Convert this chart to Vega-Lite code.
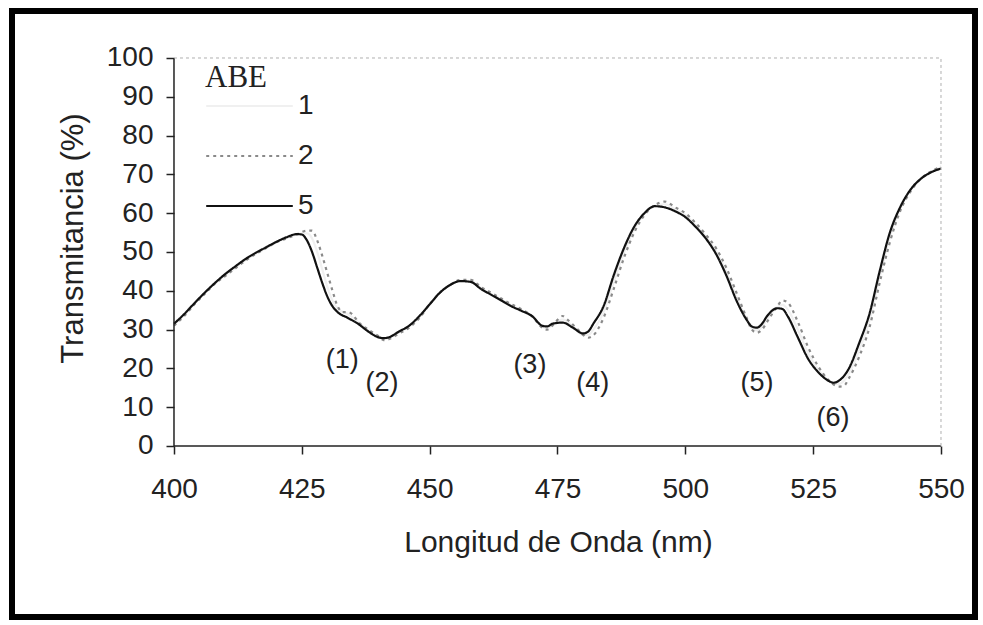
{
  "$schema": "https://vega.github.io/schema/vega-lite/v6.json",
  "width": 963,
  "height": 606,
  "autosize": {"type": "none"},
  "padding": {"left": 12, "top": 11, "right": 8, "bottom": 8},
  "background": "white",
  "data": {"values": [{}]},
  "config": {
    "view": {"stroke": "black", "strokeWidth": 6},
    "font": "Liberation Sans",
    "axis": {"labelFont": "Liberation Sans", "titleFont": "Liberation Sans", "labelColor": "#222", "titleColor": "#222", "tickColor": "#222", "tickWidth": 1.5}
  },
  "datasets": {
    "curves": [
      {"s":"1","wl":400,"t":31.3},{"s":"1","wl":402,"t":33.8},{"s":"1","wl":404,"t":36.6},{"s":"1","wl":406,"t":39.4},{"s":"1","wl":408,"t":41.9},{"s":"1","wl":410,"t":43.9},{"s":"1","wl":412,"t":45.9},{"s":"1","wl":414,"t":47.9},{"s":"1","wl":416,"t":49.5},{"s":"1","wl":418,"t":51},{"s":"1","wl":420,"t":52.5},{"s":"1","wl":422,"t":53.6},{"s":"1","wl":424,"t":54.5},{"s":"1","wl":426,"t":54.8},{"s":"1","wl":427,"t":53.5},{"s":"1","wl":428,"t":50},{"s":"1","wl":429,"t":45.5},{"s":"1","wl":430,"t":41},{"s":"1","wl":431,"t":37.5},{"s":"1","wl":432,"t":35.5},{"s":"1","wl":434,"t":34},{"s":"1","wl":436,"t":32},{"s":"1","wl":438,"t":29.8},{"s":"1","wl":440,"t":28.2},{"s":"1","wl":441,"t":27.6},{"s":"1","wl":442,"t":27.8},{"s":"1","wl":444,"t":29.3},{"s":"1","wl":446,"t":30.8},{"s":"1","wl":448,"t":33.2},{"s":"1","wl":450,"t":36.5},{"s":"1","wl":452,"t":39.5},{"s":"1","wl":454,"t":41.5},{"s":"1","wl":456,"t":42.6},{"s":"1","wl":458,"t":42.5},{"s":"1","wl":460,"t":40.8},{"s":"1","wl":462,"t":39.2},{"s":"1","wl":464,"t":37.8},{"s":"1","wl":466,"t":36.2},{"s":"1","wl":468,"t":35},{"s":"1","wl":470,"t":33.5},{"s":"1","wl":472,"t":30.8},{"s":"1","wl":473,"t":30.4},{"s":"1","wl":474,"t":31.2},{"s":"1","wl":476,"t":32.6},{"s":"1","wl":478,"t":30.8},{"s":"1","wl":480,"t":28.6},{"s":"1","wl":481,"t":28.6},{"s":"1","wl":482,"t":30},{"s":"1","wl":484,"t":34.5},{"s":"1","wl":486,"t":42.3},{"s":"1","wl":488,"t":49.8},{"s":"1","wl":490,"t":55.8},{"s":"1","wl":492,"t":59.8},{"s":"1","wl":494,"t":61.9},{"s":"1","wl":496,"t":62.3},{"s":"1","wl":498,"t":61},{"s":"1","wl":500,"t":59.5},{"s":"1","wl":502,"t":57},{"s":"1","wl":504,"t":54},{"s":"1","wl":506,"t":50.2},{"s":"1","wl":508,"t":45},{"s":"1","wl":510,"t":38.5},{"s":"1","wl":512,"t":32.7},{"s":"1","wl":513,"t":30.4},{"s":"1","wl":514,"t":29.8},{"s":"1","wl":515,"t":30.7},{"s":"1","wl":516,"t":32.7},{"s":"1","wl":518,"t":35.8},{"s":"1","wl":519,"t":36.4},{"s":"1","wl":520,"t":35.2},{"s":"1","wl":522,"t":30},{"s":"1","wl":524,"t":24},{"s":"1","wl":526,"t":19.7},{"s":"1","wl":528,"t":16.9},{"s":"1","wl":529,"t":16},{"s":"1","wl":530,"t":16},{"s":"1","wl":532,"t":18.7},{"s":"1","wl":534,"t":24.8},{"s":"1","wl":536,"t":32.2},{"s":"1","wl":538,"t":43.5},{"s":"1","wl":540,"t":53.8},{"s":"1","wl":542,"t":61},{"s":"1","wl":544,"t":65.8},{"s":"1","wl":546,"t":68.8},{"s":"1","wl":548,"t":70.6},{"s":"1","wl":550,"t":71.8},
      {"s":"2","wl":400,"t":31},{"s":"2","wl":402,"t":33.5},{"s":"2","wl":404,"t":36.5},{"s":"2","wl":406,"t":39.2},{"s":"2","wl":408,"t":41.8},{"s":"2","wl":410,"t":43.8},{"s":"2","wl":412,"t":45.8},{"s":"2","wl":414,"t":47.8},{"s":"2","wl":416,"t":49.5},{"s":"2","wl":418,"t":51},{"s":"2","wl":420,"t":52.5},{"s":"2","wl":422,"t":53.5},{"s":"2","wl":424,"t":54.5},{"s":"2","wl":426,"t":55.5},{"s":"2","wl":427,"t":55.5},{"s":"2","wl":428,"t":53},{"s":"2","wl":429,"t":49},{"s":"2","wl":430,"t":44.5},{"s":"2","wl":431,"t":40},{"s":"2","wl":432,"t":36},{"s":"2","wl":433,"t":34.5},{"s":"2","wl":434,"t":34.5},{"s":"2","wl":435,"t":33.8},{"s":"2","wl":436,"t":32},{"s":"2","wl":438,"t":30},{"s":"2","wl":440,"t":28.3},{"s":"2","wl":441,"t":27.3},{"s":"2","wl":442,"t":27.5},{"s":"2","wl":444,"t":29},{"s":"2","wl":446,"t":30.5},{"s":"2","wl":448,"t":33},{"s":"2","wl":450,"t":36.5},{"s":"2","wl":452,"t":39.5},{"s":"2","wl":454,"t":41.5},{"s":"2","wl":456,"t":42.8},{"s":"2","wl":458,"t":42.8},{"s":"2","wl":460,"t":41},{"s":"2","wl":462,"t":39.5},{"s":"2","wl":464,"t":38},{"s":"2","wl":466,"t":36.5},{"s":"2","wl":468,"t":35.2},{"s":"2","wl":470,"t":33.5},{"s":"2","wl":472,"t":30.5},{"s":"2","wl":473,"t":30},{"s":"2","wl":474,"t":31},{"s":"2","wl":475,"t":32.5},{"s":"2","wl":476,"t":33.5},{"s":"2","wl":477,"t":32.5},{"s":"2","wl":479,"t":30},{"s":"2","wl":481,"t":27.9},{"s":"2","wl":482,"t":28.5},{"s":"2","wl":484,"t":33},{"s":"2","wl":486,"t":40.5},{"s":"2","wl":488,"t":48.5},{"s":"2","wl":490,"t":55},{"s":"2","wl":492,"t":59.5},{"s":"2","wl":494,"t":62},{"s":"2","wl":496,"t":63},{"s":"2","wl":498,"t":61.5},{"s":"2","wl":500,"t":60},{"s":"2","wl":502,"t":57.5},{"s":"2","wl":504,"t":54.5},{"s":"2","wl":506,"t":51},{"s":"2","wl":508,"t":46},{"s":"2","wl":510,"t":39.5},{"s":"2","wl":512,"t":33},{"s":"2","wl":513,"t":30},{"s":"2","wl":514,"t":29.2},{"s":"2","wl":515,"t":30},{"s":"2","wl":516,"t":32},{"s":"2","wl":518,"t":36},{"s":"2","wl":519,"t":37.5},{"s":"2","wl":520,"t":37},{"s":"2","wl":522,"t":32},{"s":"2","wl":524,"t":25.5},{"s":"2","wl":526,"t":20.5},{"s":"2","wl":528,"t":17},{"s":"2","wl":530,"t":15.3},{"s":"2","wl":531,"t":15.5},{"s":"2","wl":532,"t":17.5},{"s":"2","wl":534,"t":23},{"s":"2","wl":536,"t":30.5},{"s":"2","wl":538,"t":42},{"s":"2","wl":540,"t":52.5},{"s":"2","wl":542,"t":60.5},{"s":"2","wl":544,"t":65.5},{"s":"2","wl":546,"t":68.8},{"s":"2","wl":548,"t":70.7},{"s":"2","wl":550,"t":72},
      {"s":"5","wl":400,"t":31.5},{"s":"5","wl":402,"t":34},{"s":"5","wl":404,"t":36.8},{"s":"5","wl":406,"t":39.5},{"s":"5","wl":408,"t":42},{"s":"5","wl":410,"t":44.3},{"s":"5","wl":412,"t":46.3},{"s":"5","wl":414,"t":48.2},{"s":"5","wl":416,"t":49.8},{"s":"5","wl":418,"t":51.2},{"s":"5","wl":420,"t":52.6},{"s":"5","wl":422,"t":53.8},{"s":"5","wl":424,"t":54.6},{"s":"5","wl":425,"t":54.5},{"s":"5","wl":426,"t":53},{"s":"5","wl":427,"t":50},{"s":"5","wl":428,"t":46},{"s":"5","wl":429,"t":42},{"s":"5","wl":430,"t":38.5},{"s":"5","wl":431,"t":36},{"s":"5","wl":432,"t":34.5},{"s":"5","wl":434,"t":33},{"s":"5","wl":436,"t":31.5},{"s":"5","wl":438,"t":29.5},{"s":"5","wl":440,"t":28},{"s":"5","wl":441,"t":27.8},{"s":"5","wl":442,"t":28},{"s":"5","wl":444,"t":29.5},{"s":"5","wl":446,"t":31},{"s":"5","wl":448,"t":33.5},{"s":"5","wl":450,"t":36.5},{"s":"5","wl":452,"t":39.5},{"s":"5","wl":454,"t":41.5},{"s":"5","wl":456,"t":42.5},{"s":"5","wl":458,"t":42.3},{"s":"5","wl":460,"t":40.5},{"s":"5","wl":462,"t":39},{"s":"5","wl":464,"t":37.5},{"s":"5","wl":466,"t":36},{"s":"5","wl":468,"t":34.8},{"s":"5","wl":470,"t":33.5},{"s":"5","wl":472,"t":31},{"s":"5","wl":473,"t":30.8},{"s":"5","wl":474,"t":31.5},{"s":"5","wl":476,"t":31.8},{"s":"5","wl":478,"t":30.5},{"s":"5","wl":480,"t":29},{"s":"5","wl":481,"t":29.5},{"s":"5","wl":482,"t":31.5},{"s":"5","wl":484,"t":36},{"s":"5","wl":486,"t":44},{"s":"5","wl":488,"t":51},{"s":"5","wl":490,"t":56.5},{"s":"5","wl":492,"t":60},{"s":"5","wl":494,"t":61.8},{"s":"5","wl":496,"t":61.5},{"s":"5","wl":498,"t":60.5},{"s":"5","wl":500,"t":59},{"s":"5","wl":502,"t":56.5},{"s":"5","wl":504,"t":53.5},{"s":"5","wl":506,"t":49.5},{"s":"5","wl":508,"t":44},{"s":"5","wl":510,"t":37.5},{"s":"5","wl":512,"t":32.5},{"s":"5","wl":513,"t":30.8},{"s":"5","wl":514,"t":30.5},{"s":"5","wl":515,"t":31.5},{"s":"5","wl":516,"t":33.5},{"s":"5","wl":518,"t":35.5},{"s":"5","wl":519,"t":35.3},{"s":"5","wl":520,"t":33.5},{"s":"5","wl":522,"t":28},{"s":"5","wl":524,"t":22.5},{"s":"5","wl":526,"t":19},{"s":"5","wl":528,"t":16.8},{"s":"5","wl":529,"t":16.3},{"s":"5","wl":530,"t":16.8},{"s":"5","wl":532,"t":20},{"s":"5","wl":534,"t":26.5},{"s":"5","wl":536,"t":34},{"s":"5","wl":538,"t":45},{"s":"5","wl":540,"t":55},{"s":"5","wl":542,"t":61.5},{"s":"5","wl":544,"t":66},{"s":"5","wl":546,"t":68.8},{"s":"5","wl":548,"t":70.5},{"s":"5","wl":550,"t":71.5}
    ],
    "notes": [
      {"lab":"(1)","wl":432.9,"t":22.2},
      {"lab":"(2)","wl":440.7,"t":16.2},
      {"lab":"(3)","wl":469.6,"t":20.9},
      {"lab":"(4)","wl":481.9,"t":16.2},
      {"lab":"(5)","wl":514.0,"t":16.2},
      {"lab":"(6)","wl":528.9,"t":7.2}
    ]
  },
  "layer": [
    {
      "data": {"name": "curves"},
      "mark": {"type": "line", "strokeWidth": 2.2, "interpolate": "monotone"},
      "encoding": {
        "x": {"field": "wl", "type": "quantitative",
              "scale": {"domain": [368.32, 556.65], "nice": false, "zero": false},
              "axis": {"values": [400,425,450,475,500,525,550], "domain": false, "grid": false, "offset": -171,
                       "tickSize": 8, "labelPadding": 21, "labelFontSize": 28, "labelFlush": false, "labelOverlap": false,
                       "title": "Longitud de Onda (nm)", "titleFontSize": 30, "titleFontWeight": "normal",
                       "titleX": 546, "titleY": 105, "titleBaseline": "alphabetic", "titleAlign": "center"}},
        "y": {"field": "t", "type": "quantitative",
              "scale": {"domain": [-44.08, 112.11], "nice": false, "zero": false},
              "axis": {"values": [0,10,20,30,40,50,60,70,80,90,100], "domain": false, "grid": false, "offset": -162,
                       "tickSize": 8, "labelPadding": 13, "labelFontSize": 28, "labelFlush": false, "labelOverlap": false,
                       "title": "Transmitancia (%)", "titleFontSize": 31, "titleFontWeight": "normal", "titleAngle": -90,
                       "titleX": -92, "titleY": 227, "titleBaseline": "alphabetic", "titleAlign": "center"}},
        "color": {"field": "s", "type": "nominal",
                  "scale": {"domain": ["1","2","5"], "range": ["#f0f0f0", "#8a8a8a", "#111111"]},
                  "legend": {"title": "ABE", "orient": "none", "legendX": 193, "legendY": 52, "padding": 0,
                             "symbolType": "stroke", "symbolSize": 7500, "symbolStrokeWidth": 2, "clipHeight": 28,
                             "labelFont": "Liberation Sans", "labelFontSize": 28, "labelColor": "#222", "labelOffset": 4,
                             "titleFont": "Liberation Serif", "titleFontSize": 31, "titleFontWeight": "normal", "titleColor": "#222",
                             "titlePadding": -2, "rowPadding": 22}},
        "strokeDash": {"field": "s", "type": "nominal",
                       "scale": {"domain": ["1","2","5"], "range": [[1,0],[3,4],[1,0]]},
                       "legend": {"title": "ABE", "orient": "none", "legendX": 193, "legendY": 52, "padding": 0,
                             "symbolType": "stroke", "symbolSize": 7500, "symbolStrokeWidth": 2, "clipHeight": 28,
                             "labelFont": "Liberation Sans", "labelFontSize": 28, "labelColor": "#222", "labelOffset": 4,
                             "titleFont": "Liberation Serif", "titleFontSize": 31, "titleFontWeight": "normal", "titleColor": "#222",
                             "titlePadding": -2, "rowPadding": 22}}
      }
    },
    {
      "mark": {"type": "rule", "color": "#222", "strokeWidth": 1.5},
      "encoding": {
        "x": {"datum": 400, "type": "quantitative"},
        "y": {"datum": 0, "type": "quantitative"},
        "y2": {"datum": 100}
      }
    },
    {
      "mark": {"type": "rule", "color": "#222", "strokeWidth": 1.5},
      "encoding": {
        "x": {"datum": 400, "type": "quantitative"},
        "x2": {"datum": 550},
        "y": {"datum": 0, "type": "quantitative"}
      }
    },
    {
      "mark": {"type": "rule", "color": "#b0b0b0", "strokeWidth": 1, "strokeDash": [3, 3]},
      "encoding": {
        "x": {"datum": 400, "type": "quantitative"},
        "x2": {"datum": 550},
        "y": {"datum": 100, "type": "quantitative"}
      }
    },
    {
      "mark": {"type": "rule", "color": "#b0b0b0", "strokeWidth": 1, "strokeDash": [3, 3]},
      "encoding": {
        "x": {"datum": 550, "type": "quantitative"},
        "y": {"datum": 0, "type": "quantitative"},
        "y2": {"datum": 100}
      }
    },
    {
      "data": {"name": "notes"},
      "mark": {"type": "text", "font": "Liberation Sans", "fontSize": 27, "color": "#222", "align": "center", "baseline": "middle"},
      "encoding": {
        "x": {"field": "wl", "type": "quantitative"},
        "y": {"field": "t", "type": "quantitative"},
        "text": {"field": "lab", "type": "nominal"}
      }
    }
  ]
}
